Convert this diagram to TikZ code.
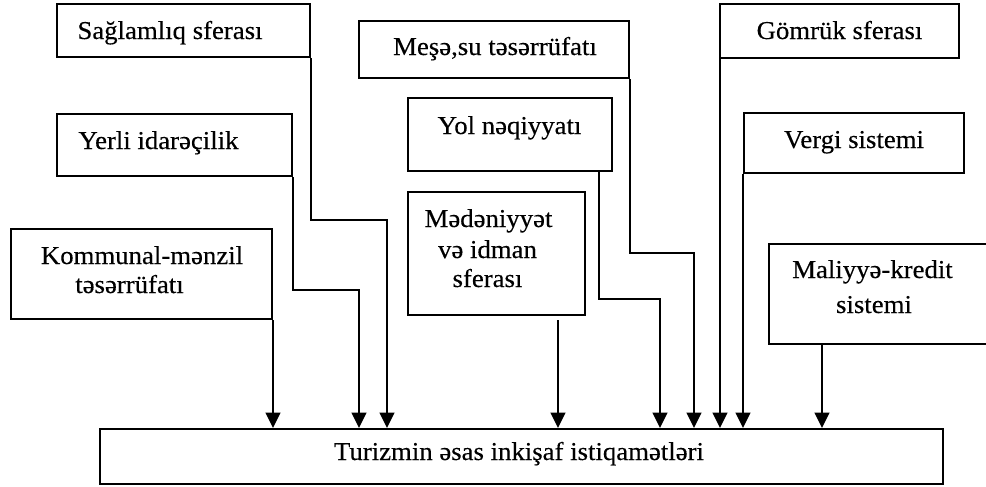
\documentclass[tikz,border=0pt]{standalone}
\usepackage{fontspec}
\setmainfont[FakeStretch=1.04,FakeBold=0.3]{Liberation Serif}
\usetikzlibrary{arrows.meta,fit}
\tikzset{
  box/.style={draw, line width=1.5pt, rectangle, inner sep=0pt},
  lbl/.style={anchor=base, inner sep=0pt, font=\fontsize{19.3}{22}\selectfont},
  arr/.style={line width=1.5pt, -{Triangle[length=11.5pt,width=11pt]}},
  conn/.style={line width=1.5pt}
}
\begin{document}
\begin{tikzpicture}[x=0.75pt,y=-0.75pt]
\useasboundingbox (0,0) rectangle (986,486);
% boxes
\node[box, fit={(57,4) (310,57)}] (s1) {};
\node[box, fit={(57,114) (292,176)}] (s2) {};
\node[box, fit={(11,229) (272,319)}] (s3) {};
\node[box, fit={(359,21) (629,78)}] (s4) {};
\node[box, fit={(408,98) (612,171)}] (s5) {};
\node[box, fit={(408,192) (585,315)}] (s6) {};
\node[box, fit={(720,4) (959,58)}] (s7) {};
\node[box, fit={(744,113) (964,173)}] (s8) {};
\node[box, fit={(769,244) (995,344)}] (s9) {};
\node[box, fit={(100,429) (943,484)}] (T) {};
% texts
\node[lbl] (t1) at (170,39) {Sağlamlıq sferası};
\node[lbl] (t2) at (158.5,149) {Yerli idarəçilik};
\node[lbl] (t3a) at (142,264) {Kommunal-mənzil};
\node[lbl] (t3b) at (129.5,293) {təsərrüfatı};
\node[lbl] (t4) at (495,55) {Meşə,su təsərrüfatı};
\node[lbl] (t5) at (509.5,134) {Yol nəqiyyatı};
\node[lbl] (t6a) at (488.5,227) {Mədəniyyət};
\node[lbl] (t6b) at (487.5,258) {və idman};
\node[lbl] (t6c) at (487.5,287) {sferası};
\node[lbl] (t7) at (839.5,39) {Gömrük sferası};
\node[lbl] (t8) at (854,148) {Vergi sistemi};
\node[lbl] (t9a) at (872.5,278) {Maliyyə-kredit};
\node[lbl] (t9b) at (874,313) {sistemi};
\node[lbl] (tT) at (519,460) {Turizmin əsas inkişaf istiqamətləri};
% bend coordinates
\coordinate (m1) at (387,220);
\coordinate (m2) at (359,290);
\coordinate (k5) at (599,299);
\coordinate (m5) at (660,299);
\coordinate (m4) at (694,253);
\coordinate (c6) at (558,320);
\coordinate (c9) at (822,344);
% connectors
\draw[arr] (s1.south east) |- (m1) -- (m1 |- T.north);
\draw[arr] (s2.south east) |- (m2) -- (m2 |- T.north);
\draw[arr] (s3.south east) -- (s3.south east |- T.north);
\draw[arr] (c6) -- (c6 |- T.north);
\draw[arr] (s5.south -| k5) -- (k5) -- (m5) -- (m5 |- T.north);
\draw[arr] (s4.south east) |- (m4) -- (m4 |- T.north);
\draw[arr] ([xshift=0.75pt]s7.south west) -- ([xshift=0.75pt]s7.south west |- T.north);
\draw[arr] (s8.south west) -- (s8.south west |- T.north);
\draw[arr] (c9) -- (c9 |- T.north);
\end{tikzpicture}
\end{document}
